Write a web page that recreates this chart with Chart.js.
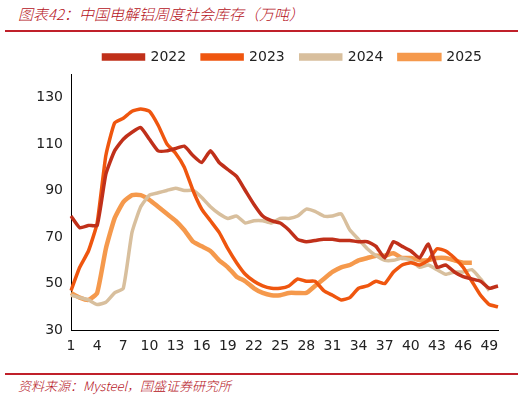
<!DOCTYPE html>
<html><head><meta charset="utf-8">
<script src="https://cdn.jsdelivr.net/npm/chart.js@4"></script>
<style>
body{margin:0;width:526px;height:401px;background:#fff;position:relative;overflow:hidden;font-family:"Noto Sans CJK SC",sans-serif}
#t{position:absolute;left:18px;top:3px;color:#b5121b;font-style:italic;font-size:15px;font-weight:300}
.ln{position:absolute;left:5px;width:513px;height:2px;background:#c0202a}
#s{position:absolute;left:18px;top:376px;color:#b5121b;font-style:italic;font-size:13px;font-weight:300}
#w{position:absolute;left:0;top:34px;width:526px;height:324px}
</style></head><body>
<div id="t">图表42：中国电解铝周度社会库存（万吨）</div>
<div class="ln" style="top:30px"></div>
<div class="ln" style="top:373px"></div>
<div id="s">资料来源：Mysteel，国盛证券研究所</div>
<div id="w"><canvas id="c"></canvas></div>
<script>
const weeks=Array.from({length:50},(_,i)=>String(i+1));
const s2022=[79,74,75,75,97,107,112,115,117,112,107,107,108,109,105,102,107,102,99,96,90,84,79,77,76,73,69,68,68.5,69,69,68.5,68.5,68,68,66,61,68,66,64,61,67,57,58,55,53,52,51,48,49];
const s2023=[47,57,64,76,105,119,121,124,125,124,118,110,106,100,90,82,77,72,65,59,54,51,49,48,48,49,52,51,51,47,45,43,44,48,49,51,50,55,58,59,58,60,65,64,61,57,51,45,41,40];
const s2024=[45,44,43,41,42,46,48,72,83,88,89,90,91,90,90,87,83,80,78,79,76,77,77,76,78,78,79,82,81,79,79,80,73,69,65,62,60,60,61,60,57,58,56,54,55,55,56,52,47];
const s2025=[46,44,43,46,65,78,85,88,88,86,83,80,77,73,68,66,64,60,57,53,51,48,46,45,45,46,46,46,49,52,55,57,58,60,61,62,62,63,61,61,60,60,61,61,60,59,59];
const ds=(l,d,c,w)=>({label:l,data:d,borderColor:c,backgroundColor:c,borderWidth:w,pointRadius:0,tension:0.15,fill:false});
const F={size:14,family:'DejaVu Sans'};
new Chart(document.getElementById('c'),{type:'line',
data:{labels:weeks,datasets:[ds('2022',s2022,'#c0301a',3.5),ds('2023',s2023,'#ef560f',3.5),ds('2024',s2024,'#d8bf9d',3.5),ds('2025',s2025,'#f5994c',4.5)]},
options:{responsive:true,maintainAspectRatio:false,animation:false,
layout:{padding:{left:0,right:28,top:0,bottom:0}},
plugins:{legend:{align:'end',labels:{boxWidth:40,boxHeight:4,color:'#222',font:F,padding:16}},tooltip:{enabled:false}},
scales:{
x:{grid:{display:false,tickLength:5,tickColor:'#000'},border:{color:'#000'},
 ticks:{autoSkip:false,maxRotation:0,color:'#222',font:F,callback:(v,i)=>i%3===0?weeks[i]:''}},
y:{min:30,max:140,grid:{display:false,tickLength:5,tickColor:'#000'},border:{color:'#000'},
 afterFit:a=>{a.width=71},
 ticks:{color:'#222',font:F},
 afterBuildTicks:a=>{a.ticks=[30,50,70,90,110,130].map(v=>({value:v}))}}
}}});
</script></body></html>
